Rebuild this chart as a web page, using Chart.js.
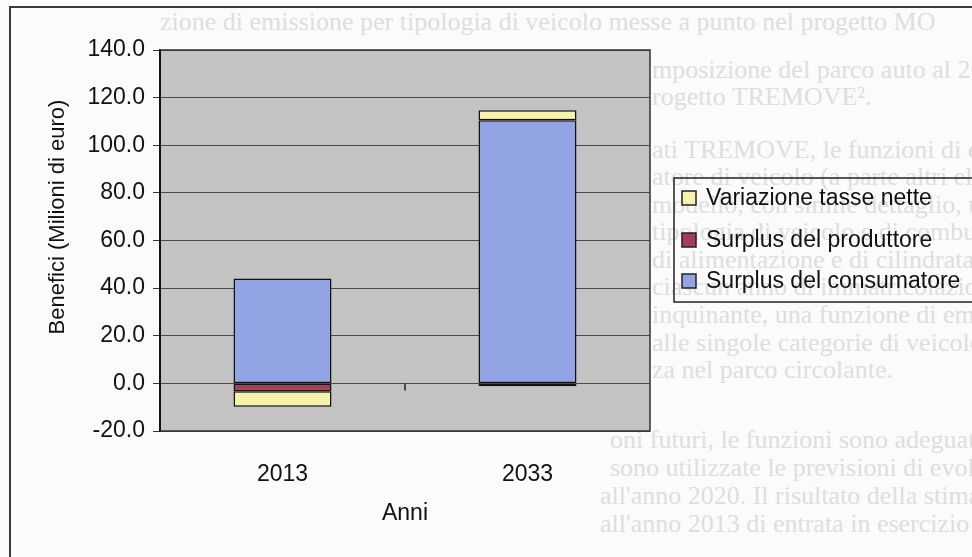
<!DOCTYPE html>
<html>
<head>
<meta charset="utf-8">
<script src="https://cdn.jsdelivr.net/npm/chart.js@4.4.1/dist/chart.umd.min.js"></script>
<style>
  body { margin: 0; background: #fbfbfb; }
  #pagina { position: relative; width: 972px; height: 557px; overflow: hidden; background: #fbfbfb; }
  #cornice { position: absolute; left: 9px; top: 6px; width: 1000px; height: 600px;
             border-left: 2px solid #3a3a3a; border-top: 2px solid #3a3a3a; }
  .testo { position: absolute; white-space: nowrap; font-family: "Liberation Serif", "DejaVu Serif", serif;
           font-size: 26px; line-height: 26px; color: #dedede; }
  #grafico { position: absolute; left: 0; top: 0; }
</style>
</head>
<body>
<div id="pagina">
  <!-- testo della pagina scansionata, dietro al grafico -->
  <div class="testo" style="left:160px; top:9px;">zione di emissione per tipologia di veicolo messe a punto nel progetto MO</div>
  <div class="testo" style="left:652px; top:57px;">mposizione del parco auto al 2020 (arrivata</div>
  <div class="testo" style="left:652px; top:84px;">rogetto TREMOVE².</div>
  <div class="testo" style="left:652px; top:137px;">ati TREMOVE, le funzioni di emissione</div>
  <div class="testo" style="left:652px; top:164px;">atore di veicolo (a parte altri elementi</div>
  <div class="testo" style="left:652px; top:192px;">modello, con simile dettaglio, utilizzate,</div>
  <div class="testo" style="left:652px; top:219px;">tipologia di veicolo e di combustibile</div>
  <div class="testo" style="left:652px; top:247px;">di alimentazione e di cilindrata, per</div>
  <div class="testo" style="left:652px; top:274px;">ciascun anno di immatricolazione e per</div>
  <div class="testo" style="left:652px; top:302px;">inquinante, una funzione di emissione</div>
  <div class="testo" style="left:652px; top:330px;">alle singole categorie di veicolo in funzione</div>
  <div class="testo" style="left:652px; top:357px;">za nel parco circolante.</div>
  <div class="testo" style="left:610px; top:427px;">oni futuri, le funzioni sono adeguate riflettendo l'evoluzione del parco veicoli</div>
  <div class="testo" style="left:610px; top:455px;">sono utilizzate le previsioni di evoluzione della flotta dal modello TREMOVE</div>
  <div class="testo" style="left:600px; top:483px;">all'anno 2020. Il risultato della stima consiste in due insiemi di funzioni</div>
  <div class="testo" style="left:600px; top:511px;">all'anno 2013 di entrata in esercizio della nuova infrastruttura ed il secondo</div>
  <div id="cornice"></div>
  <canvas id="grafico" width="972" height="557"></canvas>
</div>

<script>
// anni e componenti dei benefici (milioni di euro)
var anni = ["2013", "2033"];
var surplusConsumatore = [44.0, 110.5];
var surplusProduttore = [-3.3, -1.2];
var variazioneTasse = [-6.5, 4.2];
var valoriAsseY = [-20, 0, 20, 40, 60, 80, 100, 120, 140];

var fontBase = "'Liberation Sans', Arial, sans-serif";

// sfondo grigio dell'area del grafico
var sfondoArea = {
    id: "sfondoArea",
    beforeDraw: function(chart) {
        var a = chart.chartArea, ctx = chart.ctx;
        ctx.save();
        ctx.fillStyle = "#c3c3c3";
        ctx.fillRect(a.left, a.top, a.right - a.left, a.bottom - a.top);
        ctx.restore();
    }
};

// bordo, tacca sullo zero, titolo asse y e legenda con riquadro
var decorazioni = {
    id: "decorazioni",
    afterDraw: function(chart) {
        var a = chart.chartArea, ctx = chart.ctx;
        var x = chart.scales.x, y = chart.scales.y;
        ctx.save();

        ctx.strokeStyle = "#333";
        ctx.lineWidth = 1.5;
        ctx.beginPath();
        ctx.moveTo(a.left, a.top);
        ctx.lineTo(a.right, a.top);
        ctx.lineTo(a.right, a.bottom);
        ctx.lineTo(a.left, a.bottom);
        ctx.stroke();

        // tacca tra le due categorie sulla linea dello zero
        var xm = (x.getPixelForValue(0) + x.getPixelForValue(1)) / 2;
        var y0 = y.getPixelForValue(0);
        ctx.strokeStyle = "#222";
        ctx.beginPath();
        ctx.moveTo(xm, y0);
        ctx.lineTo(xm, y0 + 7);
        ctx.stroke();

        // titolo asse y
        ctx.fillStyle = "#111";
        ctx.font = "22px " + fontBase;
        ctx.textAlign = "center";
        ctx.textBaseline = "middle";
        ctx.translate(58, 217);
        ctx.rotate(-Math.PI / 2);
        ctx.fillText("Benefici (Milioni di euro)", 0, 0);
        ctx.setTransform(1, 0, 0, 1, 0, 0);

        // legenda
        ctx.strokeStyle = "#222";
        ctx.lineWidth = 1.5;
        ctx.strokeRect(674, 178, 330, 124);
        ctx.font = "23px " + fontBase;
        ctx.textAlign = "left";
        var ds = chart.data.datasets.slice().reverse();
        var righe = [198, 240, 281];
        ds.forEach(function(d, i) {
            ctx.fillStyle = d.backgroundColor;
            ctx.fillRect(682, righe[i] - 7, 14, 14);
            ctx.lineWidth = 1.5;
            ctx.strokeRect(682, righe[i] - 7, 14, 14);
            ctx.fillStyle = "#111";
            ctx.fillText(d.label, 706, righe[i] + 1);
        });
        ctx.restore();
    }
};

new Chart(document.getElementById("grafico"), {
    type: "bar",
    data: {
        labels: anni,
        datasets: [{
            label: "Surplus del consumatore",
            data: surplusConsumatore,
            backgroundColor: "#92a4e3"
        }, {
            label: "Surplus del produttore",
            data: surplusProduttore,
            backgroundColor: "#a63d55"
        }, {
            label: "Variazione tasse nette",
            data: variazioneTasse,
            backgroundColor: "#f6f2aa"
        }]
    },
    options: {
        responsive: false,
        animation: false,
        devicePixelRatio: 1,
        layout: {
            padding: { top: 50, right: 322, left: 0, bottom: 0 }
        },
        datasets: {
            bar: {
                barPercentage: 0.4,
                categoryPercentage: 1.0,
                borderColor: "#111",
                borderWidth: 1.5,
                borderSkipped: false
            }
        },
        plugins: {
            legend: { display: false },
            tooltip: { enabled: false }
        },
        scales: {
            x: {
                stacked: true,
                grid: { display: false },
                border: { display: false },
                ticks: {
                    color: "#111",
                    padding: 22,
                    font: { family: fontBase, size: 23 }
                },
                title: {
                    display: true,
                    text: "Anni",
                    color: "#111",
                    padding: { top: 0, bottom: 30 },
                    font: { family: fontBase, size: 23 }
                },
                afterFit: function(scale) { scale.height = 126; }
            },
            y: {
                stacked: true,
                min: -20,
                max: 140,
                afterBuildTicks: function(scale) {
                    scale.ticks = valoriAsseY.map(function(v) { return { value: v }; });
                },
                grid: {
                    color: "#4a4a4a",
                    lineWidth: 1,
                    tickLength: 7,
                    tickColor: "#333"
                },
                border: { color: "#111", width: 2 },
                ticks: {
                    color: "#111",
                    padding: 8,
                    font: { family: fontBase, size: 23 },
                    callback: function(v) { return Number(v).toFixed(1); }
                },
                afterFit: function(scale) { scale.width = 160; }
            }
        }
    },
    plugins: [sfondoArea, decorazioni]
});
</script>
</body>
</html>
